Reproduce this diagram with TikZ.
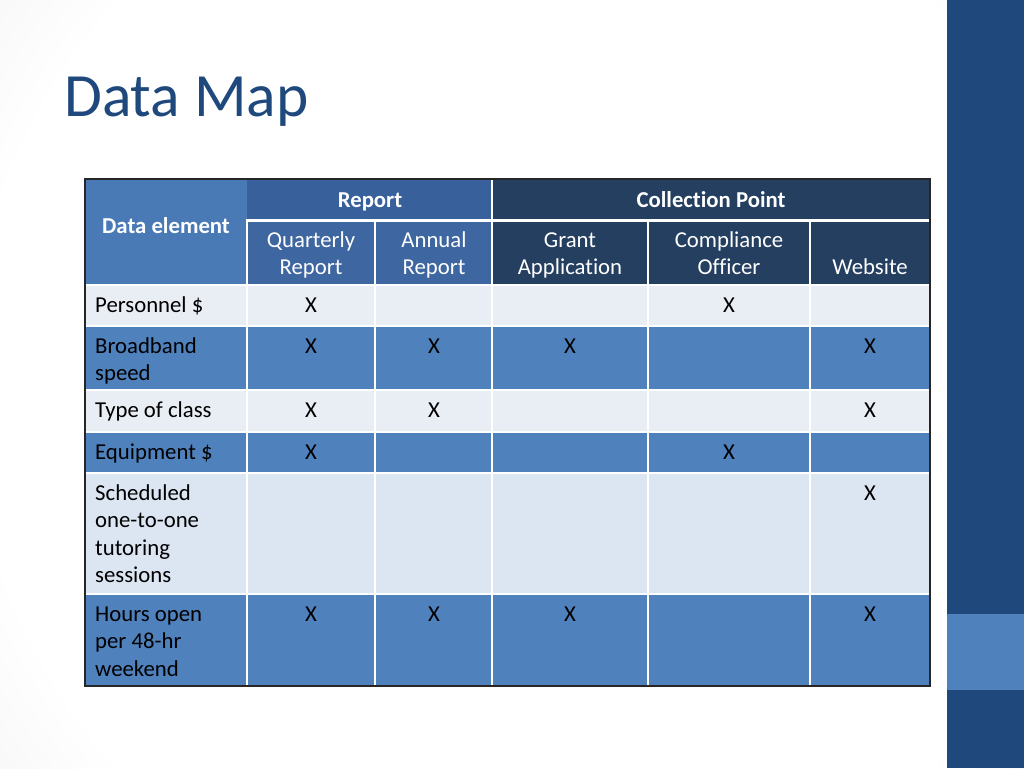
\documentclass[tikz,border=0pt]{standalone}
\usepackage{fontspec}
\setmainfont[Ligatures={NoCommon}]{Carlito}
\definecolor{titleblue}{HTML}{1F497D}
\definecolor{bandblue}{HTML}{1F497D}
\definecolor{midblue}{HTML}{4F81BD}
\definecolor{deblue}{HTML}{4A7AB6}
\definecolor{repblue}{HTML}{38609A}
\definecolor{subblue}{HTML}{3E66A0}
\definecolor{navy}{HTML}{243F60}
\definecolor{lightrow}{HTML}{E9EDF4}
\definecolor{lightrowb}{HTML}{DCE6F2}
\newcommand\cstack[1]{\vtop{\halign{\hfil##\hfil\cr#1\crcr}}}
\newcommand\lstack[1]{\vtop{\halign{##\hfil\cr#1\crcr}}}
\pgfdeclareradialshading{bgshade}{\pgfpoint{0bp}{0bp}}{color(0bp)=(white);color(22bp)=(white);color(50bp)=(black!18)}
\tikzset{
  cell/.style={font=\fontsize{22.75}{27.3}\selectfont, inner sep=0pt, anchor=base},
  lcell/.style={cell, anchor=base west},
  head/.style={cell, text=white, font=\fontsize{22.75}{27.3}\selectfont\bfseries},
  sub/.style={cell, text=white},
  gridline/.style={white, line width=2pt},
}
\begin{document}
\begin{tikzpicture}[x=1pt,y=-1pt]
\useasboundingbox (0,0) rectangle (1024,768);
\clip (0,0) rectangle (1024,768);
\shade[shading=bgshade] (-100,-250) rectangle (1150,1018);
% right band
\fill[bandblue] (947,0) rectangle (1024,768);
\fill[midblue] (947,614) rectangle (1024,690);
% title
\node[anchor=base west, inner sep=0pt, text=titleblue, font=\fontsize{61.5}{70}\selectfont] (title) at (64,116) {Data Map};
% header fills
\fill[deblue] (85,179) rectangle (247,285);
\fill[repblue] (247,179) rectangle (492,220);
\fill[subblue] (247,220) rectangle (492,285);
\fill[navy] (492,179) rectangle (930,285);
% row fills
\fill[lightrow] (85,285) rectangle (930,326);
\fill[midblue] (85,326) rectangle (930,390);
\fill[lightrow] (85,390) rectangle (930,432);
\fill[midblue] (85,432) rectangle (930,473);
\fill[lightrowb] (85,473) rectangle (930,594);
\fill[midblue] (85,594) rectangle (930,686);
% grid lines
\draw[gridline, line width=3pt] (247,220) -- (930,220);
\foreach \yy in {285,326,390,432,473,594} \draw[gridline] (85,\yy) -- (930,\yy);
\draw[gridline] (247,219) -- (247,686);
\draw[gridline] (375,220) -- (375,686);
\draw[gridline] (492,179) -- (492,686);
\draw[gridline] (648,220) -- (648,686);
\draw[gridline] (810,220) -- (810,686);
\draw[line width=1.3pt, black!85] (85,179) rectangle (930,686);
% headers
\node[head] (hde) at (166,233) {Data element};
\node[head] (hrep) at (370,207) {Report};
\node[head] (hcol) at (711,207) {Collection Point};
\node[sub] (hq) at (311,247) {\cstack{Quarterly\cr Report}};
\node[sub] (ha) at (434,247) {\cstack{Annual\cr Report}};
\node[sub] (hg) at (570,247) {\cstack{Grant\cr Application}};
\node[sub] (hc) at (729,247) {\cstack{Compliance\cr Officer}};
\node[sub] (hw) at (870,274) {Website};
% row labels
\node[lcell] (r1) at (95,312.5) {Personnel \$};
\node[lcell] (r2) at (95,353.5) {\lstack{Broadband\cr speed}};
\node[lcell] (r3) at (95,417.5) {Type of class};
\node[lcell] (r4) at (95,459.5) {Equipment \$};
\node[lcell] (r5) at (95,500.5) {\lstack{Scheduled\cr one-to-one\cr tutoring\cr sessions}};
\node[lcell] (r6) at (95,621.5) {\lstack{Hours open\cr per 48-hr\cr weekend}};
% marks
\node[cell] (m1q) at (311,312.5) {X};
\node[cell] (m1c) at (729,312.5) {X};
\node[cell] (m2q) at (311,353.5) {X};
\node[cell] (m2a) at (434,353.5) {X};
\node[cell] (m2g) at (570,353.5) {X};
\node[cell] (m2w) at (870,353.5) {X};
\node[cell] (m3q) at (311,417.5) {X};
\node[cell] (m3a) at (434,417.5) {X};
\node[cell] (m3w) at (870,417.5) {X};
\node[cell] (m4q) at (311,459.5) {X};
\node[cell] (m4c) at (729,459.5) {X};
\node[cell] (m5w) at (870,500.5) {X};
\node[cell] (m6q) at (311,621.5) {X};
\node[cell] (m6a) at (434,621.5) {X};
\node[cell] (m6g) at (570,621.5) {X};
\node[cell] (m6w) at (870,621.5) {X};
\end{tikzpicture}
\end{document}
